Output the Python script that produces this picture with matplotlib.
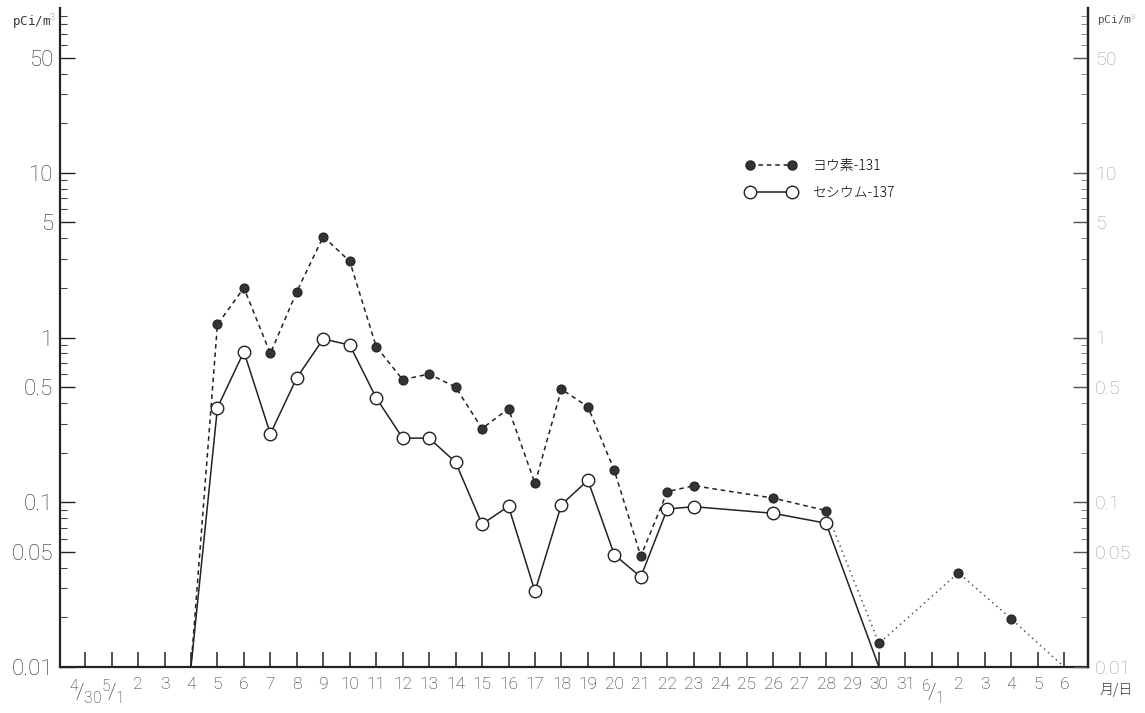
import matplotlib
matplotlib.use("Agg")
import matplotlib.pyplot as plt
from matplotlib.ticker import FixedLocator, NullFormatter, LogLocator
import numpy as np

# days counted from 4/30 (0) ... 6/6 (37)
iodine_days = [4, 5, 6, 7, 8, 9, 10, 11, 12, 13, 14, 15, 16, 17, 18, 19, 20, 21, 22, 23, 26, 28, 30, 33, 35, 37]
iodine_vals = [0.01, 1.2, 2.0, 0.8, 1.9, 4.1, 2.9, 0.88, 0.555, 0.60, 0.50, 0.28, 0.37, 0.13, 0.485, 0.38,
               0.156, 0.047, 0.116, 0.126, 0.106, 0.089, 0.0139, 0.0373, 0.0196, 0.01]
cesium_days = [4, 5, 6, 7, 8, 9, 10, 11, 12, 13, 14, 15, 16, 17, 18, 19, 20, 21, 22, 23, 26, 28, 30]
cesium_vals = [0.01, 0.375, 0.82, 0.26, 0.57, 0.98, 0.90, 0.43, 0.245, 0.245, 0.175, 0.0736, 0.0945, 0.0288,
               0.0967, 0.136, 0.048, 0.0352, 0.091, 0.094, 0.0857, 0.0746, 0.01]
xlabels = [r"$^{4}\!/_{30}$", r"$^{5}\!/_{1}$"] + [str(d) for d in range(2, 32)] + [r"$^{6}\!/_{1}$"] + [str(d) for d in range(2, 7)]
yticks = [0.01, 0.05, 0.1, 0.5, 1, 5, 10, 50]
ylabels = ["0.01", "0.05", "0.1", "0.5", "1", "5", "10", "50"]

FONT = ["Roboto", "DejaVu Sans"]
plt.rcParams["font.family"] = FONT
plt.rcParams["font.weight"] = "light"
plt.rcParams["mathtext.fontset"] = "custom"
plt.rcParams["mathtext.rm"] = "Roboto:light"
plt.rcParams["mathtext.it"] = "Roboto:light"

INK = "#222222"
LAB = "#2a2a2a"
fig = plt.figure(figsize=(11.45, 7.13), dpi=100)
ax = fig.add_axes([60/1145, 46/713, 1028/1145, 659/713])
ax.set_yscale("log")
ax.set_xlim(-0.95, 37.9)
ax.set_ylim(0.01, 100)

# iodine-131: dashed, then dotted after 5/28
idays = np.array(iodine_days); ivals = np.array(iodine_vals)
k = list(iodine_days).index(28)
ax.plot(idays[:k+1], ivals[:k+1], ls=(0, (3, 2.5)), color=INK, lw=1.1)
ax.plot(idays[k:], ivals[k:], ls=(0, (1, 2.5)), color="#555555", lw=1.1)
m = ivals > 0.01
ax.plot(idays[m], ivals[m], ls="none", marker="o", ms=6.5, mfc="#333333", mec="#222222", mew=0.8)

cdays = np.array(cesium_days); cvals = np.array(cesium_vals)
ax.plot(cdays, cvals, "-", color=INK, lw=1.1)
mc = cvals > 0.01
ax.plot(cdays[mc], cvals[mc], ls="none", marker="o", ms=9, mfc="white", mec=INK, mew=1.0)

# legend
ax.plot([], [], ls=(0, (3, 2.5)), color=INK, lw=1.1, marker="o", ms=6.5, mfc="#333333", mec="#222222",
        label="ヨウ素-131")
ax.plot([], [], "-", color=INK, lw=1.1, marker="o", ms=9, mfc="white", mec=INK, label="セシウム-137")
leg = ax.legend(loc="upper left", bbox_to_anchor=(0.655, 0.79), frameon=False, numpoints=2,
                handlelength=3.6, handletextpad=1.2, labelspacing=0.9,
                prop={"family": ["Noto Sans CJK JP", "DejaVu Sans"], "size": 10})

ax.spines["top"].set_visible(False)
for s in ["left", "bottom", "right"]:
    ax.spines[s].set_linewidth(1.6)
    ax.spines[s].set_color(INK)

ax.set_xticks(range(0, 38))
ax.set_xticklabels(xlabels, fontsize=12.5, color=LAB)
for t in ax.get_xticklabels():
    if "$" in t.get_text():
        t.set_fontsize(16)
ax.tick_params(axis="x", direction="in", length=11, width=1.1, pad=7, colors=INK, labelcolor=LAB)

ax.yaxis.set_major_locator(FixedLocator(yticks))
ax.set_yticklabels(ylabels, fontsize=16, color=LAB)
ax.yaxis.set_minor_locator(LogLocator(base=10, subs=[2, 3, 4, 6, 7, 8, 9]))
ax.yaxis.set_minor_formatter(NullFormatter())
ax.tick_params(axis="y", which="major", direction="in", length=11, width=1.0, pad=5, colors=INK,
               labelcolor=LAB)
ax.tick_params(axis="y", which="minor", direction="in", length=5, width=0.8, colors="#444444")

# right axis
ax2 = ax.twinx()
ax2.set_yscale("log")
ax2.set_ylim(0.01, 100)
for s in ["top", "left", "bottom"]:
    ax2.spines[s].set_visible(False)
ax2.spines["right"].set_linewidth(1.6)
ax2.spines["right"].set_color(INK)
ax2.yaxis.set_major_locator(FixedLocator(yticks))
ax2.set_yticklabels(ylabels, fontsize=14, color="#a0a0a0")
ax2.yaxis.set_minor_locator(LogLocator(base=10, subs=[2, 3, 4, 6, 7, 8, 9]))
ax2.yaxis.set_minor_formatter(NullFormatter())
ax2.tick_params(axis="y", which="major", direction="in", length=11, width=1.0, pad=5, colors="#555555",
                labelcolor="#a0a0a0")
ax2.tick_params(axis="y", which="minor", direction="in", length=5, width=0.7, colors="#888888")

fig.text(12/1145, 1 - 22/713, "pCi/m$^3$", fontsize=9, color="#333333", va="center",
         family=["DejaVu Sans Mono", "DejaVu Sans"])
fig.text(1097/1145, 1 - 20/713, "pCi/m$^3$", fontsize=8, color="#555555", va="center",
         family=["DejaVu Sans Mono", "DejaVu Sans"])
fig.text(1100/1145, 1 - 690/713, "月/日", fontsize=10, color="#333333", va="center",
         family=["Noto Sans CJK JP", "DejaVu Sans"])

fig.savefig("out.png", dpi=100)
